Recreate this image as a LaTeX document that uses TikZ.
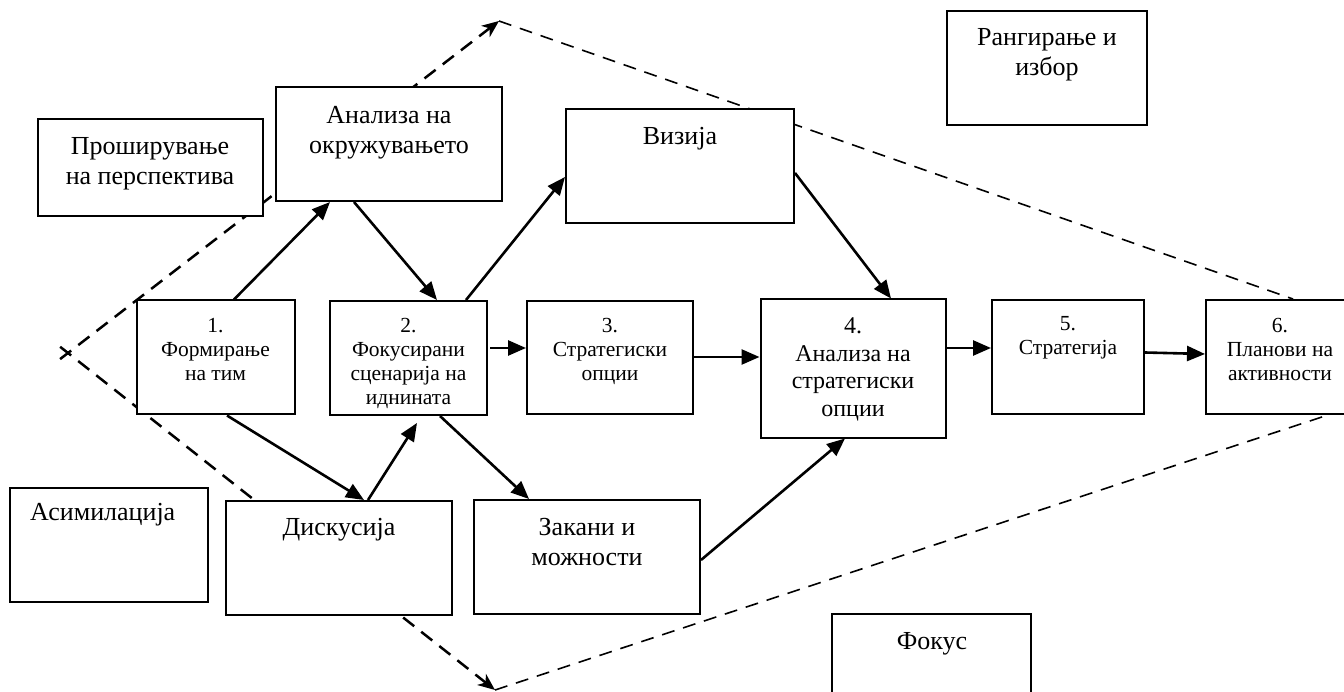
\documentclass[tikz,border=0pt]{standalone}
\usepackage{fontspec}
\setmainfont{Liberation Serif}
\usetikzlibrary{arrows.meta,calc}
\begin{document}
\begin{tikzpicture}[x=1pt,y=-1pt,
  box/.style={draw,line width=2pt,fill=white,inner sep=0pt},
  big/.style={inner sep=0pt,align=center,anchor=north,font=\fontsize{26}{30}\selectfont},
  mid/.style={inner sep=0pt,align=center,anchor=north,font=\fontsize{24}{27.5}\selectfont},
  small/.style={inner sep=0pt,align=center,anchor=north,font=\fontsize{21.5}{24}\selectfont},
  flow/.style={line width=2.6pt,-{Triangle[length=18pt,width=15pt]}},
  outline/.style={line width=2.5pt,dash pattern=on 14pt off 9pt,-{Stealth[length=17pt,width=14pt,inset=5pt]}},
  thinout/.style={line width=1.6pt,dash pattern=on 13pt off 9pt}]
\useasboundingbox (0,0) rectangle (1344,692);
\clip (0,0) rectangle (1344,692);
% dashed outline
\coordinate (X) at (68,353);
\coordinate (T) at (499,21);
\coordinate (B) at (495,690);
\coordinate (R1) at (1293,299);
\coordinate (R2) at (1331,414);
\draw[outline] ($(X)!-10pt!(T)$) -- (T);
\draw[outline] ($(X)!-10pt!(B)$) -- (B);
\draw[thinout] (T) -- (R1);
\draw[thinout] (B) -- (R2);
% boxes
\node[box,minimum width=225pt,minimum height=97pt] (persp) at (150,167.5) {};
\node[box,minimum width=226pt,minimum height=114pt] (okr) at (389,144) {};
\node[box,minimum width=228pt,minimum height=114pt] (viz) at (680,166) {};
\node[box,minimum width=200pt,minimum height=114pt] (rang) at (1047,68) {};
\node[box,minimum width=158pt,minimum height=114pt] (b1) at (215.5,357.5) {};
\node[box,minimum width=157pt,minimum height=114pt] (b2) at (408.5,358) {};
\node[box,minimum width=166pt,minimum height=113pt] (b3) at (610,357.5) {};
\node[box,minimum width=185pt,minimum height=138pt] (b4) at (853,368.5) {};
\node[box,minimum width=152pt,minimum height=114pt] (b5) at (1068,357) {};
\node[box,minimum width=148pt,minimum height=114pt] (b6) at (1280,357) {};
\node[box,minimum width=198pt,minimum height=114pt] (asim) at (109,545) {};
\node[box,minimum width=226pt,minimum height=114pt] (disk) at (339,558) {};
\node[box,minimum width=226pt,minimum height=114pt] (zak) at (587,557) {};
\node[box,minimum width=199pt,minimum height=114pt] (fok) at (931.5,671) {};
% texts
\node[big] (tpersp) at (150,137) {Проширување\\на перспектива};
\node[big] (tokr) at (389,106) {Анализа на\\окружувањето};
\node[big] (tviz) at (680,127) {Визија};
\node[big] (trang) at (1047,28) {Рангирање и\\избор};
\node[big] (tdisk) at (339,518) {Дискусија};
\node[big] (tzak) at (587,518) {Закани и\\можности};
\node[big,anchor=north west] (tasim) at (30,503) {Асимилација};
\node[big] (tfok) at (932,632) {Фокус};
\node[small] (t1) at (215.5,318) {1.\\Формирање\\на тим};
\node[small] (t2) at (408.5,318) {2.\\Фокусирани\\сценарија на\\иднината};
\node[small] (t3) at (610,318) {3.\\Стратегиски\\опции};
\node[mid] (t4) at (853,318) {4.\\Анализа на\\стратегиски\\опции};
\node[small] (t5) at (1068,316) {5.\\Стратегија};
\node[small] (t6) at (1280,318) {6.\\Планови на\\активности};
% arrows
\draw[flow] ([xshift=18.5pt]b1.north) -- ([xshift=-59pt]okr.south);
\draw[flow] ([xshift=-35pt]okr.south) -- ([xshift=28.5pt]b2.north);
\draw[flow] ([xshift=57.5pt]b2.north) -- ([yshift=-11pt]viz.west);
\draw[flow] ([yshift=-7pt]viz.east) -- ([xshift=38pt]b4.north);
\draw[flow] ([xshift=2pt,yshift=10pt]b2.east) -- ([yshift=9.5pt]b3.west);
\draw[flow] ([yshift=0.5pt]b3.east) -- ([yshift=11.5pt]b4.west);
\draw[flow] ([yshift=20.5pt]b4.east) -- ([yshift=9pt]b5.west);
\draw[flow] ([yshift=4.5pt]b5.east) -- ([yshift=3pt]b6.west);
\draw[flow] ([xshift=11.5pt]b1.south) -- ([xshift=25pt]disk.north);
\draw[flow] ([xshift=29pt]disk.north) -- ([xshift=8.5pt,yshift=-7pt]b2.south);
\draw[flow] ([xshift=31.5pt]b2.south) -- ([xshift=-58pt]zak.north);
\draw[flow] ([yshift=-3pt]zak.east) -- ([xshift=-8pt]b4.south);
\end{tikzpicture}
\end{document}
